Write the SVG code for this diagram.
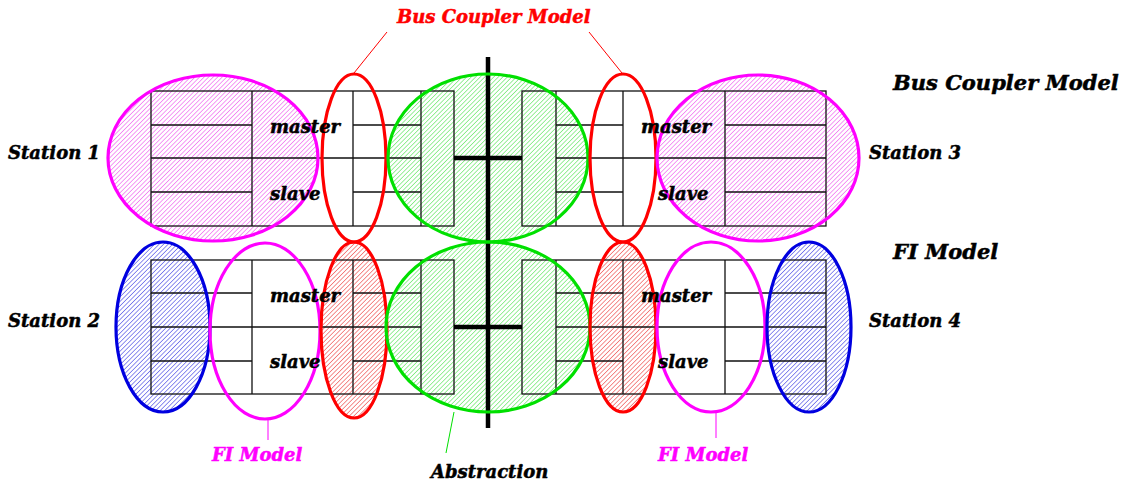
<svg xmlns="http://www.w3.org/2000/svg" width="1130" height="485" viewBox="0 0 1130 485">
  <defs>
    <pattern id="hatch-m" width="3.2" height="3.2" patternUnits="userSpaceOnUse" patternTransform="rotate(45)">
      <rect x="0" y="0" width="0.7" height="3.2" style="fill:#f070f0;stroke:none"/>
    </pattern>
    <pattern id="hatch-g" width="3.2" height="3.2" patternUnits="userSpaceOnUse" patternTransform="rotate(45)">
      <rect x="0" y="0" width="0.7" height="3.2" style="fill:#70e870;stroke:none"/>
    </pattern>
    <pattern id="hatch-r" width="3.2" height="3.2" patternUnits="userSpaceOnUse" patternTransform="rotate(45)">
      <rect x="0" y="0" width="0.7" height="3.2" style="fill:#f06060;stroke:none"/>
    </pattern>
    <pattern id="hatch-b" width="3.2" height="3.2" patternUnits="userSpaceOnUse" patternTransform="rotate(45)">
      <rect x="0" y="0" width="0.7" height="3.2" style="fill:#6060e8;stroke:none"/>
    </pattern>
  </defs>
  <style>
    .grid { fill: none; stroke: #111; stroke-width: 1.3; }
    .ring { stroke-width: 3.2; }
    .mag { stroke: #ff00ff; }
    .red { stroke: #ff0000; }
    .grn { stroke: #00e000; }
    .blu { stroke: #0000e0; }
    .lbl { font-family: "DejaVu Serif", "Liberation Serif", serif; font-weight: bold; font-style: italic; font-size: 18px; fill: #000; stroke: #000; stroke-width: 0.5; }
    .big { font-size: 21px; }
    .lead { fill: none; stroke-width: 1; }
    .bus { stroke: #000; stroke-width: 4.5; fill: none; }
  </style>

  <!-- hatched regions (fills below the grid) -->
  <g id="fills" stroke="none">
    <ellipse cx="213" cy="158" rx="105" ry="83" fill="url(#hatch-m)"/>
    <ellipse cx="758" cy="158" rx="101" ry="83" fill="url(#hatch-m)"/>
    <ellipse cx="488" cy="158" rx="100" ry="84" fill="url(#hatch-g)"/>
    <ellipse cx="488" cy="327" rx="102" ry="85" fill="url(#hatch-g)"/>
    <ellipse cx="163" cy="327" rx="47" ry="85" fill="url(#hatch-b)"/>
    <ellipse cx="809" cy="327" rx="42" ry="85" fill="url(#hatch-b)"/>
    <ellipse cx="354" cy="330" rx="33" ry="88" fill="url(#hatch-r)"/>
    <ellipse cx="623" cy="327" rx="33" ry="85" fill="url(#hatch-r)"/>
  </g>

  <!-- top row of stations -->
  <g id="station1" class="grid">
    <rect x="151" y="91" width="303" height="135"/>
    <path d="M252,91 V226 M353,91 V226 M421,91 V226 M151,125 H252 M151,192 H252 M151,158 H421 M353,125 H421 M353,192 H421"/>
  </g>
  <g id="station3" class="grid">
    <rect x="522" y="91" width="304" height="135"/>
    <path d="M556,91 V226 M623,91 V226 M725,91 V226 M725,125 H826 M725,192 H826 M556,158 H826 M556,125 H623 M556,192 H623"/>
  </g>

  <!-- bottom row of stations -->
  <g id="station2" class="grid">
    <rect x="151" y="260" width="303" height="134"/>
    <path d="M252,260 V394 M353,260 V394 M421,260 V394 M151,293 H252 M151,361 H252 M151,327 H421 M353,293 H421 M353,361 H421"/>
  </g>
  <g id="station4" class="grid">
    <rect x="522" y="260" width="304" height="134"/>
    <path d="M556,260 V394 M623,260 V394 M725,260 V394 M725,293 H826 M725,361 H826 M556,327 H826 M556,293 H623 M556,361 H623"/>
  </g>

  <!-- bus lines -->
  <g id="bus" class="bus">
    <path d="M488,57 V428"/>
    <path d="M454,158 H522"/>
    <path d="M454,327 H522"/>
  </g>

  <!-- model outlines -->
  <g id="bus-coupler-top" fill="none" class="ring">
    <ellipse cx="213" cy="158" rx="105" ry="83" class="mag"/>
    <ellipse cx="354" cy="158" rx="32" ry="84" class="red"/>
    <ellipse cx="488" cy="158" rx="100" ry="84" class="grn"/>
    <ellipse cx="623" cy="158" rx="33" ry="84" class="red"/>
    <ellipse cx="758" cy="158" rx="101" ry="83" class="mag"/>
  </g>
  <g id="fi-bottom" fill="none" class="ring">
    <ellipse cx="163" cy="327" rx="47" ry="85" class="blu"/>
    <ellipse cx="265" cy="331" rx="55" ry="88" class="mag"/>
    <ellipse cx="354" cy="330" rx="33" ry="88" class="red"/>
    <ellipse cx="488" cy="327" rx="102" ry="85" class="grn"/>
    <ellipse cx="623" cy="327" rx="33" ry="85" class="red"/>
    <ellipse cx="711" cy="327" rx="54" ry="85" class="mag"/>
    <ellipse cx="809" cy="327" rx="42" ry="85" class="blu"/>
  </g>

  <!-- leader lines -->
  <g id="connectors">
    <path class="lead red" d="M387,32 L354,73"/>
    <path class="lead red" d="M589,32 L622,73"/>
    <path class="lead grn" d="M454,412 L446,453"/>
    <path class="lead mag" d="M268,419 V440"/>
    <path class="lead mag" d="M716,412 V438"/>
  </g>

  <!-- labels -->
  <g id="labels">
    <text class="lbl" x="270" y="133">master</text>
    <text class="lbl" x="270" y="200">slave</text>
    <text class="lbl" x="641" y="133">master</text>
    <text class="lbl" x="658" y="200">slave</text>
    <text class="lbl" x="270" y="302">master</text>
    <text class="lbl" x="270" y="368">slave</text>
    <text class="lbl" x="641" y="302">master</text>
    <text class="lbl" x="658" y="368">slave</text>
    <text class="lbl" x="8" y="159">Station 1</text>
    <text class="lbl" x="8" y="327">Station 2</text>
    <text class="lbl" x="869" y="159">Station 3</text>
    <text class="lbl" x="869" y="327">Station 4</text>
    <text class="lbl big" x="893" y="90">Bus Coupler Model</text>
    <text class="lbl big" x="893" y="259">FI Model</text>
    <text class="lbl" x="397" y="23" style="fill:#ff0000;stroke:#ff0000">Bus Coupler Model</text>
    <text class="lbl" x="212" y="461" style="fill:#ff00ff;stroke:#ff00ff">FI Model</text>
    <text class="lbl" x="658" y="461" style="fill:#ff00ff;stroke:#ff00ff">FI Model</text>
    <text class="lbl" x="431" y="478">Abstraction</text>
  </g>
</svg>
